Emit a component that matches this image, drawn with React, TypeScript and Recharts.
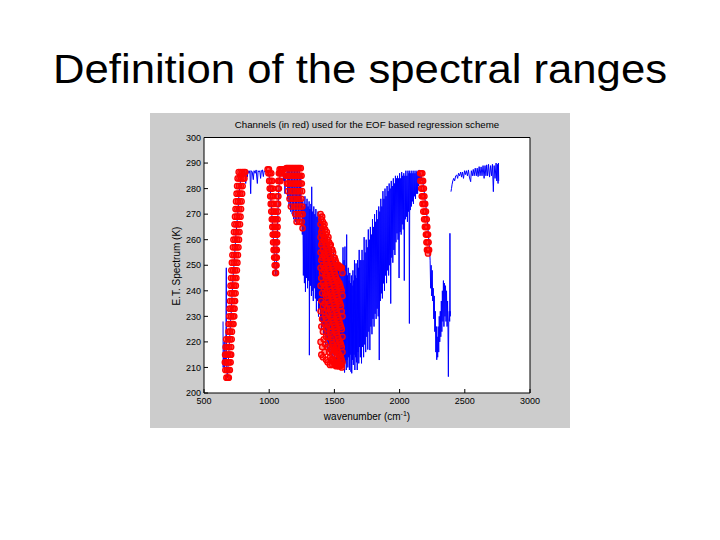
import React from "react";
import {
	ComposedChart,
	Line,
	Scatter,
	XAxis,
	YAxis,
} from "recharts";

// wavenumber ticks (cm-1) and brightness temperature ticks (K)
const xTicks = [500, 1000, 1500, 2000, 2500, 3000];
const yTicks = [200, 210, 220, 230, 240, 250, 260, 270, 280, 290, 300];

// blue spectrum, [wavenumber, temperature]
const blueLongwave = [
	[646, 228], [647, 210], [650, 214], [652, 211], [655, 220], [658, 209], [662, 216], [666, 212],
	[669, 226], [671, 249], [672, 213], [676, 208], [680, 206], [684, 210], [688, 214], [692, 217],
	[696, 221], [700, 224], [704, 228], [708, 231], [712, 235], [716, 239], [720, 243], [725, 247],
	[730, 250], [735, 254], [740, 258], [745, 262], [750, 265], [755, 268], [760, 271], [765, 275],
	[770, 279], [775, 281], [780, 283], [785, 285], [790, 286], [795, 286.5], [800, 287],
	[808, 287], [815, 286], [820, 282], [825, 287], [832, 284.5], [838, 287], [845, 286], [852, 287],
	[858, 278], [862, 287], [870, 286.5], [878, 283.5], [884, 287], [892, 286], [900, 287.3],
	[909, 282], [915, 287], [922, 286.5], [928, 287], [934, 284], [940, 287], [948, 287.3],
	[955, 284.7], [962, 287], [970, 286.5], [978, 287], [985, 286],
	[990, 287], [1000, 285], [1010, 278], [1020, 270], [1030, 262], [1040, 253], [1048, 247],
	[1052, 246], [1056, 250], [1060, 258], [1064, 265], [1068, 272], [1072, 278], [1078, 283],
	[1085, 286], [1092, 287], [1098, 286], [1104, 287],
	[1110, 283], [1115, 287], [1121, 278], [1126, 286], [1132, 284],
	[1138, 287], [1142, 276], [1146, 287.5], [1152, 273], [1158, 288], [1164, 271], [1170, 288],
	[1176, 270], [1182, 287.5], [1188, 268], [1194, 288], [1200, 267], [1206, 288], [1212, 266],
	[1218, 287.5], [1224, 268], [1230, 287], [1236, 267], [1242, 286], [1246, 270],
];

const blueWaterBand = [
	[1250, 276], [1254, 262], [1258, 275], [1262, 246], [1266, 273], [1270, 243], [1274, 277],
	[1278, 239.6], [1282, 274], [1286, 245], [1290, 276], [1294, 241], [1298, 273], [1302, 244],
	[1306, 275], [1308, 214.8], [1312, 272], [1316, 242], [1320, 274], [1324, 238], [1326, 280.7],
	[1330, 240], [1334, 271], [1338, 236], [1342, 273], [1346, 241], [1350, 270], [1354, 237],
	[1358, 272], [1362, 232], [1366, 269], [1370, 236], [1374, 271], [1378, 229.9], [1382, 268],
	[1386, 233], [1390, 270], [1394, 228], [1398, 268], [1402, 224.6], [1406, 266], [1410, 226],
	[1414, 265], [1418, 222], [1422, 262], [1426, 223], [1430, 263], [1434, 218], [1438, 260],
	[1442, 221], [1446, 261], [1450, 217], [1454, 258], [1458, 219], [1462, 259], [1466, 215],
	[1470, 256], [1474, 218], [1478, 257], [1482, 214], [1486, 254], [1490, 216], [1494, 255],
	[1498, 213], [1502, 252], [1506, 215], [1510, 253], [1514, 212], [1518, 250], [1522, 214],
	[1526, 251], [1530, 211], [1534, 249], [1538, 213], [1542, 250], [1546, 211], [1550, 248],
	[1554, 212], [1558, 249], [1562, 210],
	[1566, 257], [1570, 210], [1574, 252], [1578, 208], [1581, 257.3], [1584, 212], [1588, 250],
	[1591, 209], [1594, 262], [1597, 213], [1600, 246], [1603, 210], [1606, 249], [1609, 214],
	[1612, 244], [1615, 209], [1618, 247], [1621, 215], [1624, 243], [1627, 208.3], [1630, 246],
	[1633, 207.7], [1636, 242], [1639, 213], [1642, 248], [1645, 211], [1648, 244], [1651, 215],
	[1654, 252], [1657, 209], [1660, 246], [1663, 214], [1666, 250.7], [1669, 212], [1672, 245],
	[1675, 209], [1678, 252], [1681, 216], [1684, 249], [1687, 211.6], [1690, 256], [1693, 218],
	[1696, 252], [1699, 214], [1704, 252], [1708, 211.6], [1712, 256], [1716, 218], [1720, 252],
	[1724, 214], [1728, 261], [1732, 219], [1736, 255], [1740, 216], [1744, 260], [1748, 222],
	[1752, 257], [1756, 217], [1760, 264], [1764, 224], [1768, 260], [1772, 216.8], [1776, 265],
	[1780, 226], [1784, 262], [1788, 223], [1792, 268], [1796, 229], [1800, 265], [1804, 226],
	[1808, 270], [1812, 231], [1816, 267], [1820, 229], [1824, 271.6], [1828, 233], [1832, 268],
	[1836, 230], [1840, 273], [1844, 212.9], [1848, 271], [1852, 236], [1856, 276], [1860, 239],
	[1864, 273], [1868, 237], [1872, 279], [1876, 242.9], [1880, 276], [1884, 240], [1888, 280],
	[1892, 246], [1896, 277], [1900, 243], [1904, 281], [1908, 248], [1912, 279], [1916, 246],
	[1920, 282], [1924, 250], [1928, 280], [1932, 235], [1936, 283], [1940, 253], [1944, 281],
	[1948, 251], [1952, 284], [1956, 256], [1960, 282], [1964, 254], [1968, 285], [1972, 259],
	[1976, 284], [1980, 262.5], [1984, 285], [1988, 260], [1992, 284], [1996, 245], [2000, 286],
	[2004, 263], [2008, 284], [2012, 262], [2016, 286.5], [2020, 266], [2024, 285], [2028, 264],
	[2032, 286], [2036, 244], [2040, 285], [2044, 268], [2048, 287], [2052, 269], [2056, 285],
	[2060, 267], [2064, 287], [2068, 271], [2072, 286], [2075, 227.2], [2078, 287], [2082, 271.6],
	[2086, 286], [2090, 273], [2094, 287], [2098, 275], [2102, 286], [2106, 274], [2110, 287],
	[2114, 277], [2118, 286], [2122, 276], [2126, 287], [2130, 278], [2134, 286.5], [2138, 278],
	[2142, 287], [2146, 281], [2150, 287.3], [2154, 283], [2158, 286], [2162, 284], [2166, 285],
	[2170, 283], [2176, 284], [2182, 281], [2188, 279], [2194, 276], [2200, 274], [2206, 271],
	[2212, 268], [2218, 264], [2224, 260], [2230, 256],
	[2234, 252], [2238, 241], [2242, 250], [2246, 238], [2250, 248], [2254, 236], [2258, 241],
	[2262, 229], [2266, 238], [2270, 224], [2274, 232], [2278, 216], [2282, 226], [2285, 213],
	[2288, 222], [2292, 214], [2296, 226], [2300, 216], [2304, 230], [2308, 220], [2312, 232],
	[2316, 222], [2320, 236], [2324, 224], [2328, 240], [2332, 228], [2336, 244], [2340, 226],
	[2344, 243], [2348, 230], [2352, 242], [2356, 228], [2360, 240], [2364, 226], [2368, 236],
	[2371, 226], [2374, 206.4], [2377, 228], [2381, 232], [2384, 228], [2386, 262.5], [2388, 230],
	[2390, 232],
];

const blueShortwave = [
	[2394, 278.8], [2398, 280], [2402, 281.5], [2408, 283], [2415, 284], [2422, 283], [2430, 285],
	[2438, 285.3], [2445, 284], [2452, 286], [2460, 285], [2468, 286.5], [2475, 284.5], [2482, 286.5],
	[2490, 284], [2498, 287], [2505, 285.5], [2512, 287], [2520, 285], [2528, 287.3], [2535, 284.5],
	[2545, 282.7], [2550, 287], [2558, 285], [2565, 287.5], [2572, 285], [2580, 288], [2588, 285],
	[2595, 288], [2602, 284.7], [2610, 288.6], [2617, 285], [2625, 288.5], [2632, 285], [2640, 289],
	[2648, 284], [2655, 289], [2662, 285], [2668, 289.3], [2675, 285], [2682, 289.5], [2690, 284.5],
	[2698, 289], [2705, 285], [2712, 289.5], [2719, 278.8], [2725, 289], [2732, 284], [2740, 290],
	[2745, 283], [2750, 289.5], [2755, 282], [2758, 290], [2760, 283],
];

// selected channels (red circles): temperature followed by the wavenumbers at that level
const redCo2 = [
	[206, 672, 682, 690],
	[209, 664, 676, 688, 698],
	[212, 660, 670, 682, 694, 704],
	[215, 662, 674, 686, 698, 708],
	[218, 666, 680, 694, 708],
	[221, 670, 686, 700, 712],
	[224, 688, 700, 714],
	[227, 690, 704, 718, 726],
	[230, 694, 708, 722, 732],
	[233, 696, 710, 724, 734],
	[236, 700, 714, 728, 738],
	[239, 702, 716, 730, 742],
	[242, 704, 718, 732, 744],
	[245, 708, 722, 736, 748],
	[248, 710, 724, 738, 752],
	[251, 714, 728, 742, 756],
	[254, 718, 732, 746, 760],
	[257, 722, 736, 750, 764],
	[260, 726, 740, 754, 768],
	[263, 730, 744, 758, 772],
	[266, 734, 748, 762, 776],
	[269, 738, 752, 766, 780],
	[272, 742, 756, 770, 784],
	[275, 746, 760, 774, 788],
	[278, 750, 764, 778, 792],
	[281, 754, 768, 782, 796],
	[284, 758, 772, 786, 800, 810],
	[286.5, 766, 780, 794, 806, 816],
];

const redOzone = [
	[247, 1046, 1052],
	[250, 1042, 1050, 1056],
	[253, 1038, 1046, 1054, 1058],
	[256, 1034, 1042, 1050, 1058],
	[259, 1030, 1040, 1050, 1060],
	[262, 1027, 1036, 1046, 1056, 1062],
	[265, 1024, 1034, 1044, 1054, 1064],
	[268, 1020, 1030, 1040, 1052, 1064],
	[271, 1016, 1026, 1038, 1050, 1066],
	[274, 1012, 1022, 1034, 1060, 1068],
	[277, 1008, 1018, 1030, 1062, 1070],
	[280, 1004, 1014, 1026, 1066, 1074],
	[283, 1000, 1010, 1022, 1070, 1078, 1086],
	[286, 994, 1004, 1016, 1074, 1082, 1090, 1100],
	[287.5, 988, 998, 1080, 1090, 1100, 1108],
];

const redWindow = [
	[288, 1132, 1142, 1152, 1162, 1172, 1182, 1192, 1202, 1212, 1222, 1232, 1242],
	[285, 1128, 1138, 1148, 1158, 1168, 1178, 1188, 1198, 1208, 1218, 1228, 1238, 1248],
	[282, 1136, 1146, 1160, 1176, 1190, 1200, 1214, 1226, 1240, 1250],
	[279, 1144, 1170, 1186, 1204, 1220, 1236, 1252],
	[276, 1156, 1180, 1196, 1212, 1230, 1246],
	[273, 1166, 1194, 1216, 1238, 1254],
	[270, 1200, 1222, 1244, 1256],
	[267, 1210, 1232, 1250],
	[264.5, 1256],
];

// water vapour channels: wavenumber followed by the temperatures in that column
const redWater = [
	[1394, 270, 266, 261, 255, 249, 242, 232, 220],
	[1400, 268, 263, 258, 252, 245, 236, 226, 215],
	[1406, 269, 264, 259, 253, 247, 239, 229, 218],
	[1412, 267, 262, 256, 250, 243, 234, 224, 214],
	[1418, 265, 260, 254, 248, 241, 232, 221],
	[1424, 266, 261, 255, 249, 242, 235, 227, 216],
	[1430, 264, 259, 253, 246, 239, 230, 219],
	[1436, 262, 257, 251, 245, 238, 229, 222, 213],
	[1442, 263, 258, 252, 246, 240, 233, 225],
	[1448, 260, 255, 249, 243, 236, 227, 218, 212],
	[1454, 261, 256, 250, 244, 238, 231, 222],
	[1460, 259, 254, 248, 242, 235, 226, 216],
	[1466, 258, 253, 247, 240, 233, 224, 214, 211],
	[1472, 258, 252, 246, 239, 232, 223, 217],
	[1478, 256, 251, 245, 238, 230, 221, 213],
	[1484, 256, 250, 244, 237, 229, 220, 215, 211],
	[1490, 255, 249, 243, 236, 228, 219, 213],
	[1496, 253, 248, 242, 235, 227, 218, 212],
	[1502, 253, 247, 241, 234, 226, 217, 211],
	[1508, 252, 246, 240, 233, 225, 216, 212],
	[1514, 251, 245, 239, 232, 224, 218, 213, 210.5],
	[1520, 250, 244, 238, 231, 223, 217, 212],
	[1526, 250, 244, 237, 230, 222, 216, 211],
	[1532, 250, 243, 236, 229, 221, 215, 210.5],
	[1538, 249, 243, 236, 228, 220, 215, 211],
	[1544, 249.5, 242, 235, 227, 220, 214, 210.5],
	[1550, 249, 241, 234, 226, 219, 214, 211],
	[1556, 249, 240, 232, 225, 218, 213, 210],
	[1562, 247, 238, 230, 222, 216, 212],
];

const redN2o = [
	[286, 2158, 2166, 2174],
	[283, 2160, 2170, 2180],
	[280, 2166, 2176, 2186],
	[277, 2170, 2180, 2190],
	[274, 2176, 2186, 2196],
	[271, 2182, 2192, 2202],
	[268, 2188, 2198, 2208],
	[265, 2194, 2204, 2212],
	[262, 2202, 2210, 2218],
	[259, 2206, 2214, 2222],
	[256, 2210, 2218, 2226],
	[254.6, 2218],
];

const toRows = (pairs: number[][]) => pairs.map(([wn, t]) => ({ wn, t }));
const byLevel = (rows: number[][]) =>
	rows.flatMap(([t, ...wns]) => wns.map((wn) => ({ wn, t })));
const byColumn = (rows: number[][]) =>
	rows.flatMap(([wn, ...temps]) => temps.map((t) => ({ wn, t })));

const blueMain = toRows([...blueLongwave, ...blueWaterBand]);
const blueTail = toRows(blueShortwave);
const redPoints = [
	...byLevel(redCo2),
	...byLevel(redOzone),
	...byLevel(redWindow),
	...byColumn(redWater),
	...byLevel(redN2o),
];

const font = '"Liberation Sans", Arial, Helvetica, sans-serif';
const tickStyle = { fontSize: 9, fill: "#000", fontFamily: font };

const Ring = (props: any) => (
	<circle
		cx={props.cx}
		cy={props.cy}
		r={2.7}
		fill="#ff0000"
		fillOpacity={0.45}
		stroke="#ff0000"
		strokeWidth={1.3}
	/>
);

export default function App() {
	return (
		<div
			style={{
				position: "absolute",
				left: 0,
				top: 0,
				width: 720,
				height: 540,
				background: "#fff",
				fontFamily: font,
			}}
		>
			<svg width={720} height={100} style={{ position: "absolute", left: 0, top: 0 }}>
				<text
					x={360}
					y={83}
					textAnchor="middle"
					fontSize={40}
					fontFamily={font}
					textLength={614}
					lengthAdjust="spacingAndGlyphs"
				>
					Definition of the spectral ranges
				</text>
			</svg>

			<div
				style={{
					position: "absolute",
					left: 150,
					top: 113,
					width: 420,
					height: 315,
					background: "#cccccc",
				}}
			>
				{/* white axes face behind the plot */}
				<div
					style={{
						position: "absolute",
						left: 54,
						top: 24.5,
						width: 326,
						height: 255.5,
						background: "#ffffff",
					}}
				/>
				<ComposedChart
					width={420}
					height={315}
					margin={{ top: 0.5, right: 0, bottom: 0, left: 0 }}
				>
					<XAxis
						dataKey="wn"
						type="number"
						domain={[500, 3000]}
						ticks={xTicks}
						height={35}
						tickSize={-4}
						tickMargin={9}
						tick={tickStyle}
						stroke="#000"
						interval={0}
					/>
					<XAxis
						xAxisId="top"
						orientation="top"
						type="number"
						domain={[500, 3000]}
						ticks={xTicks}
						height={24}
						tickSize={-4}
						tick={false}
						stroke="#000"
						interval={0}
					/>
					<YAxis
						dataKey="t"
						type="number"
						domain={[200, 300]}
						ticks={yTicks}
						width={54}
						tickSize={-4}
						tickMargin={7}
						tick={tickStyle}
						stroke="#000"
						interval={0}
					/>
					<YAxis
						yAxisId="right"
						orientation="right"
						type="number"
						domain={[200, 300]}
						ticks={yTicks}
						width={40}
						tickSize={-4}
						tick={false}
						stroke="#000"
						interval={0}
					/>
					<Line
						data={blueMain}
						dataKey="t"
						type="linear"
						stroke="#0000ff"
						strokeWidth={1}
						dot={false}
						activeDot={false}
						isAnimationActive={false}
					/>
					<Line
						data={blueTail}
						dataKey="t"
						type="linear"
						stroke="#0000ff"
						strokeWidth={1}
						dot={false}
						activeDot={false}
						isAnimationActive={false}
					/>
					<Scatter data={redPoints} dataKey="t" shape={Ring} isAnimationActive={false} />
				</ComposedChart>

				<div
					style={{
						position: "absolute",
						left: 54,
						top: 6,
						width: 326,
						textAlign: "center",
						fontSize: 9.7,
						whiteSpace: "nowrap",
					}}
				>
					Channels (in red) used for the EOF based regression scheme
				</div>
				<div
					style={{
						position: "absolute",
						left: 54,
						top: 297,
						width: 326,
						textAlign: "center",
						fontSize: 10,
						whiteSpace: "nowrap",
					}}
				>
					wavenumber (cm<sup style={{ fontSize: 7 }}>-1</sup>)
				</div>
				<div
					style={{
						position: "absolute",
						left: 26,
						top: 153,
						fontSize: 10,
						whiteSpace: "nowrap",
						transform: "translate(-50%, -50%) rotate(-90deg)",
					}}
				>
					E.T. Spectrum (K)
				</div>
			</div>
		</div>
	);
}
